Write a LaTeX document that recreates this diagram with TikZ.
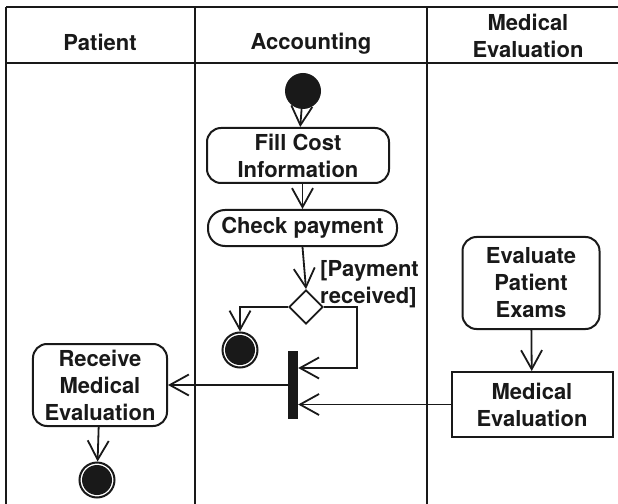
\documentclass[tikz,border=0pt]{standalone}
\usepackage{fontspec}
\setmainfont{TeX Gyre Heros}
\usetikzlibrary{arrows.meta,shapes.geometric}
\begin{document}
\begin{tikzpicture}[x=1bp,y=-1bp,
  lane/.style={line width=2bp, draw=black!90},
  lbl/.style={font=\bfseries\fontsize{22bp}{27bp}\selectfont, text=black!90, align=center, inner sep=0pt},
  action/.style={lbl, draw=black!90, line width=2bp, rounded corners=14bp},
  objbox/.style={lbl, draw=black!90, line width=2bp},
  initnode/.style={circle, fill=black!90, minimum size=36bp, inner sep=0pt},
  endnode/.style={circle, draw=black!90, line width=2bp, fill=white, minimum size=35bp, inner sep=0pt,
    path picture={\fill[black!90] (path picture bounding box.center) circle (15bp);}},
  decision/.style={diamond, draw=black!90, line width=1.8bp, fill=white, minimum width=34bp, minimum height=34bp, inner sep=0pt},
  forkbar/.style={fill=black!90, minimum width=10bp, minimum height=68bp, inner sep=0pt},
  flow/.style={line width=1.8bp, draw=black!90, -{Straight Barb[length=19bp,width=21bp,line width=1.8bp]}}
]
\useasboundingbox (0,0) rectangle (618,504);

% swimlane frame
\draw[lane] (6,7) -- (618,7);
\draw[lane] (6,63) -- (618,63);
\draw[lane] (6,7) -- (6,504);
\draw[lane] (195,7) -- (195,504);
\draw[lane] (427,7) -- (427,504);

% lane headings
\node[lbl] (hpat) at (100,42) {Patient};
\node[lbl, anchor=base] (hacc) at (311,49.5) {Accounting};
\node[lbl] (hmed) at (528,36) {Medical\\Evaluation};

% Accounting lane
\node[initnode] (start) at (303,91) {};
\node[action, minimum width=182bp, minimum height=55bp] (fill) at (298,155.5) {Fill Cost\\Information};
\node[action, rounded corners=17bp, minimum width=189bp, minimum height=36bp] (check) at (302.5,228) {Check payment};
\node[decision] (dec) at (306,307) {};
\node[lbl, anchor=west, align=left] (guard) at (320,284) {[Payment\\received]};
\node[endnode] (end1) at (240,350) {};
\node[forkbar] (fork) at (293,385) {};

% Patient lane
\node[action, minimum width=134bp, minimum height=82bp] (recv) at (100,385) {Receive\\Medical\\Evaluation};
\node[endnode] (end2) at (97,480) {};

% Medical Evaluation lane
\node[action, minimum width=137bp, minimum height=92bp] (eval) at (531,283) {Evaluate\\Patient\\Exams};
\node[objbox, minimum width=161bp, minimum height=65bp] (me) at (532,404.5) {Medical\\Evaluation};

% control and object flows
\coordinate (jr) at (357,307);
\draw[flow] (start) -- (fill);
\draw[flow] (fill.south -| check.north) -- (check.north);
\draw[flow] (check.south) -- (dec.north);
\draw[flow] (dec.west) -| (end1.north);
\draw[flow] (dec.east) -- (jr) |- ([yshift=17bp]fork.east);
\draw[flow] (fork.west) -- (recv.east);
\draw[flow] (me.west) -- (me.west -| fork.east);
\draw[flow] (eval) -- (me);
\draw[flow] (recv) -- (end2);
\end{tikzpicture}
\end{document}
